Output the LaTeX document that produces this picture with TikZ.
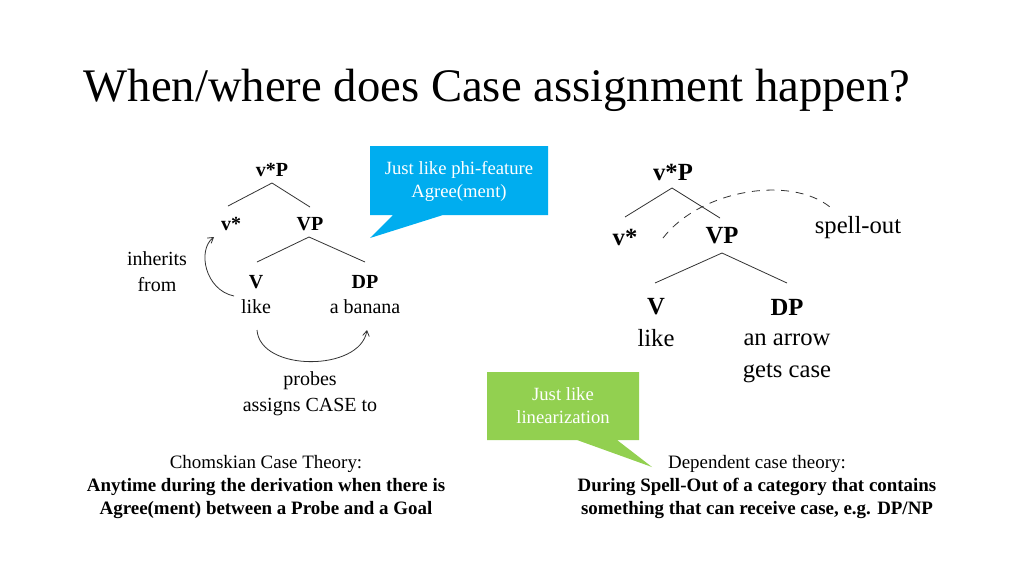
\documentclass[tikz,border=0pt]{standalone}
\usepackage{fontspec}
\setmainfont{Liberation Serif}
\usetikzlibrary{arrows.meta}
\definecolor{calloutblue}{HTML}{00ADEF}
\definecolor{calloutgreen}{HTML}{92D050}
\definecolor{linegray}{HTML}{333333}
\begin{document}
\begin{tikzpicture}[x=0.75pt,y=-0.75pt,
  lt/.style={font=\fontsize{15}{19.5}\selectfont, inner sep=1pt},
  ltb/.style={font=\fontsize{15}{18}\selectfont\bfseries, inner sep=1pt},
  rt/.style={font=\fontsize{18.5}{24}\selectfont, inner sep=1pt},
  rtb/.style={font=\fontsize{18.5}{22}\selectfont\bfseries, inner sep=1pt},
  branch/.style={draw=linegray, line width=0.6pt},
  curvearrow/.style={draw=linegray, line width=0.6pt, -{Straight Barb[length=4pt,width=5pt]}},
  callouttext/.style={font=\fontsize{14}{17.3}\selectfont, text=white, align=center},
  bottomtext/.style={font=\fontsize{14.2}{17.3}\selectfont, align=center},
]
\useasboundingbox (0,0) rectangle (1024,576);
\fill[white] (0,0) rectangle (1024,576);

% title
\node[font=\fontsize{35}{40}\selectfont, anchor=west] (title) at (79,90) {When/where does Case assignment happen?};

% ---------- left tree ----------
\node[ltb] (lvp) at (272,170) {v*P};
\node[ltb] (lv) at (231,224) {v*};
\node[ltb] (lVP) at (310,224) {VP};
\node[ltb] (lV) at (256,282) {V};
\node[ltb] (lDP) at (365,282) {DP};
\node[lt] (llike) at (256,307) {like};
\node[lt] (lbanana) at (365,307) {a banana};
\node[lt, align=center] (linh) at (157,272) {inherits\\from};
\node[lt, align=center] (lprobes) at (310,394) {probes\\assigns CASE to};
\coordinate (lvpb) at (272,183);
\coordinate (lvpl) at (228,206);
\coordinate (lvpr) at (310,207);
\coordinate (lVPb) at (309,237);
\coordinate (lVPl) at (257,262);
\coordinate (lVPr) at (365,262);
\draw[branch] (lvpb) -- (lvpl);
\draw[branch] (lvpb) -- (lvpr);
\draw[branch] (lVPb) -- (lVPl);
\draw[branch] (lVPb) -- (lVPr);
\coordinate (inhS) at (234,296);
\coordinate (inhE) at (214,237);
\draw[curvearrow] (inhS) .. controls (205,290) and (197,250) .. (inhE);
\coordinate (prS) at (257,330);
\coordinate (prE) at (367,330);
\draw[curvearrow] (prS) .. controls (260,372) and (360,372) .. (prE);

% blue callout
\fill[calloutblue] (370,146) -- (548,146) -- (548,215) -- (443,215) -- (370,238) -- (393,215) -- (370,215) -- cycle;
\node[callouttext] (cblue) at (459,181) {Just like phi-feature\\Agree(ment)};

% ---------- right tree ----------
\node[rtb] (rvp) at (673,172) {v*P};
\node[rtb] (rv) at (625,237) {v*};
\node[rtb] (rVP) at (722,236) {VP};
\node[rtb] (rV) at (656,307) {V};
\node[rtb] (rDP) at (787,307) {DP};
\node[rt] (rlike) at (656,338) {like};
\node[rt, align=center] (rarrow) at (787,358) {an arrow\\gets case};
\node[rt] (rspell) at (858,228) {spell-out};
\coordinate (rvpb) at (672,188);
\coordinate (rvpl) at (625,217);
\coordinate (rvpr) at (720,218);
\coordinate (rVPb) at (722,253);
\coordinate (rVPl) at (655,283);
\coordinate (rVPr) at (787,283);
\draw[branch] (rvpb) -- (rvpl);
\draw[branch] (rvpb) -- (rvpr);
\draw[branch] (rVPb) -- (rVPl);
\draw[branch] (rVPb) -- (rVPr);
\coordinate (dS) at (663,238);
\coordinate (dE) at (830,207);
\draw[branch, dash pattern=on 6pt off 5pt] (dS) .. controls (700,190) and (790,175) .. (dE);

% green callout
\fill[calloutgreen] (487,372) -- (639,372) -- (639,440) -- (617,440) -- (652,467) -- (577,440) -- (487,440) -- cycle;
\node[callouttext] (cgreen) at (563,406) {Just like\\linearization};

% bottom texts
\node[bottomtext] (bl) at (266,487) {Chomskian Case Theory:\\\textbf{Anytime during the derivation when there is}\\\textbf{Agree(ment) between a Probe and a Goal}};
\node[bottomtext] (br) at (757,487) {Dependent case theory:\\\textbf{During Spell-Out of a category that contains}\\\textbf{something that can receive case, e.g. DP/NP}};
\end{tikzpicture}
\end{document}
